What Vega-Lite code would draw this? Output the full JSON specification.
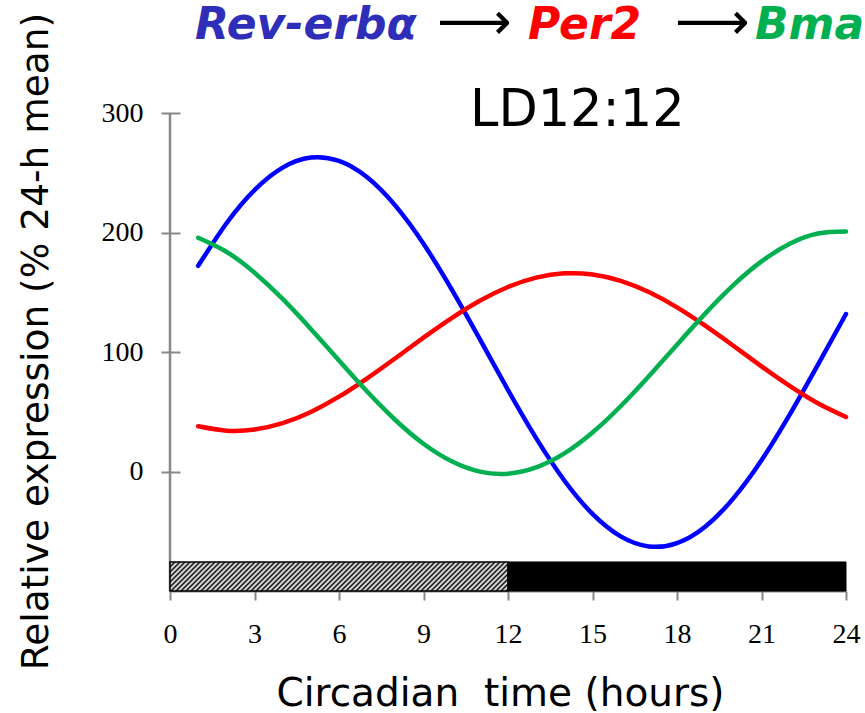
{
  "$schema": "https://vega.github.io/schema/vega-lite/v6.json",
  "width": 676,
  "height": 478,
  "autosize": {"type": "none"},
  "padding": {"left": 170, "top": 113, "right": 19, "bottom": 122},
  "background": "white",
  "config": {
    "view": {"stroke": null},
    "axis": {"grid": false, "labelColor": "black", "titleColor": "black", "titleFontWeight": "normal"}
  },
  "datasets": {
    "expr": [
      {"gene": "Rev-erbα", "t": 1, "v": 172.1}, {"gene": "Rev-erbα", "t": 2, "v": 207.5}, {"gene": "Rev-erbα", "t": 3, "v": 235.5},
      {"gene": "Rev-erbα", "t": 4, "v": 254.3}, {"gene": "Rev-erbα", "t": 5, "v": 262.7}, {"gene": "Rev-erbα", "t": 6, "v": 259.9},
      {"gene": "Rev-erbα", "t": 7, "v": 246.2}, {"gene": "Rev-erbα", "t": 8, "v": 222.5}, {"gene": "Rev-erbα", "t": 9, "v": 190.6},
      {"gene": "Rev-erbα", "t": 10, "v": 152.4}, {"gene": "Rev-erbα", "t": 11, "v": 110.7}, {"gene": "Rev-erbα", "t": 12, "v": 68.2},
      {"gene": "Rev-erbα", "t": 13, "v": 27.9}, {"gene": "Rev-erbα", "t": 14, "v": -7.5}, {"gene": "Rev-erbα", "t": 15, "v": -35.5},
      {"gene": "Rev-erbα", "t": 16, "v": -54.3}, {"gene": "Rev-erbα", "t": 17, "v": -62.7}, {"gene": "Rev-erbα", "t": 18, "v": -59.9},
      {"gene": "Rev-erbα", "t": 19, "v": -46.2}, {"gene": "Rev-erbα", "t": 20, "v": -22.5}, {"gene": "Rev-erbα", "t": 21, "v": 9.4},
      {"gene": "Rev-erbα", "t": 22, "v": 47.6}, {"gene": "Rev-erbα", "t": 23, "v": 89.3}, {"gene": "Rev-erbα", "t": 24, "v": 131.8},
      {"gene": "Per2", "t": 1, "v": 37.8}, {"gene": "Per2", "t": 2, "v": 34.2}, {"gene": "Per2", "t": 3, "v": 35.1},
      {"gene": "Per2", "t": 4, "v": 40.4}, {"gene": "Per2", "t": 5, "v": 49.8}, {"gene": "Per2", "t": 6, "v": 62.6},
      {"gene": "Per2", "t": 7, "v": 78.0}, {"gene": "Per2", "t": 8, "v": 94.8}, {"gene": "Per2", "t": 9, "v": 112.0},
      {"gene": "Per2", "t": 10, "v": 128.4}, {"gene": "Per2", "t": 11, "v": 142.9}, {"gene": "Per2", "t": 12, "v": 154.4},
      {"gene": "Per2", "t": 13, "v": 162.2}, {"gene": "Per2", "t": 14, "v": 165.8}, {"gene": "Per2", "t": 15, "v": 164.9},
      {"gene": "Per2", "t": 16, "v": 159.6}, {"gene": "Per2", "t": 17, "v": 150.2}, {"gene": "Per2", "t": 18, "v": 137.4},
      {"gene": "Per2", "t": 19, "v": 122.0}, {"gene": "Per2", "t": 20, "v": 105.2}, {"gene": "Per2", "t": 21, "v": 88.0},
      {"gene": "Per2", "t": 22, "v": 71.6}, {"gene": "Per2", "t": 23, "v": 57.1}, {"gene": "Per2", "t": 24, "v": 45.6},
      {"gene": "Bmal1", "t": 1, "v": 195.6}, {"gene": "Bmal1", "t": 2, "v": 183.9}, {"gene": "Bmal1", "t": 3, "v": 166.4},
      {"gene": "Bmal1", "t": 4, "v": 144.4}, {"gene": "Bmal1", "t": 5, "v": 119.3}, {"gene": "Bmal1", "t": 6, "v": 92.9},
      {"gene": "Bmal1", "t": 7, "v": 66.9}, {"gene": "Bmal1", "t": 8, "v": 43.1}, {"gene": "Bmal1", "t": 9, "v": 23.2},
      {"gene": "Bmal1", "t": 10, "v": 8.5}, {"gene": "Bmal1", "t": 11, "v": -0.1}, {"gene": "Bmal1", "t": 12, "v": -1.8},
      {"gene": "Bmal1", "t": 13, "v": 3.4}, {"gene": "Bmal1", "t": 14, "v": 15.1}, {"gene": "Bmal1", "t": 15, "v": 32.6},
      {"gene": "Bmal1", "t": 16, "v": 54.6}, {"gene": "Bmal1", "t": 17, "v": 79.7}, {"gene": "Bmal1", "t": 18, "v": 106.1},
      {"gene": "Bmal1", "t": 19, "v": 132.1}, {"gene": "Bmal1", "t": 20, "v": 155.9}, {"gene": "Bmal1", "t": 21, "v": 175.8},
      {"gene": "Bmal1", "t": 22, "v": 190.5}, {"gene": "Bmal1", "t": 23, "v": 199.1}, {"gene": "Bmal1", "t": 24, "v": 200.8}
    ],
    "lightdark": [
      {"phase": "light", "start": 0, "end": 12},
      {"phase": "dark", "start": 12, "end": 24}
    ]
  },
  "layer": [
    {
      "description": "Y axis line",
      "data": {"values": [{}]},
      "mark": {"type": "rule", "color": "#888888", "strokeWidth": 2.5},
      "encoding": {
        "x": {"datum": 0, "type": "quantitative", "scale": {"domain": [0, 24], "nice": false, "zero": false}},
        "y": {"datum": -100, "type": "quantitative", "scale": {"domain": [-100, 300], "nice": false, "zero": false}},
        "y2": {"datum": 300}
      }
    },
    {
      "description": "Light phase bar (hatched)",
      "data": {"name": "lightdark"},
      "transform": [{"filter": "datum.phase === 'light'"}],
      "mark": {
        "type": "rect",
        "stroke": "black",
        "strokeWidth": 1.5,
        "fill": {
          "gradient": "linear", "x1": 0, "y1": 0, "x2": 1.4685, "y2": 0.126,
          "stops": [
            {"offset": 0, "color": "#111111"}, {"offset": 0.005, "color": "#ffffff"}, {"offset": 0.01, "color": "#111111"}, {"offset": 0.015, "color": "#ffffff"},
            {"offset": 0.02, "color": "#111111"}, {"offset": 0.025, "color": "#ffffff"}, {"offset": 0.03, "color": "#111111"}, {"offset": 0.035, "color": "#ffffff"},
            {"offset": 0.04, "color": "#111111"}, {"offset": 0.045, "color": "#ffffff"}, {"offset": 0.05, "color": "#111111"}, {"offset": 0.055, "color": "#ffffff"},
            {"offset": 0.06, "color": "#111111"}, {"offset": 0.065, "color": "#ffffff"}, {"offset": 0.07, "color": "#111111"}, {"offset": 0.075, "color": "#ffffff"},
            {"offset": 0.08, "color": "#111111"}, {"offset": 0.085, "color": "#ffffff"}, {"offset": 0.09, "color": "#111111"}, {"offset": 0.095, "color": "#ffffff"},
            {"offset": 0.1, "color": "#111111"}, {"offset": 0.105, "color": "#ffffff"}, {"offset": 0.11, "color": "#111111"}, {"offset": 0.115, "color": "#ffffff"},
            {"offset": 0.12, "color": "#111111"}, {"offset": 0.125, "color": "#ffffff"}, {"offset": 0.13, "color": "#111111"}, {"offset": 0.135, "color": "#ffffff"},
            {"offset": 0.14, "color": "#111111"}, {"offset": 0.145, "color": "#ffffff"}, {"offset": 0.15, "color": "#111111"}, {"offset": 0.155, "color": "#ffffff"},
            {"offset": 0.16, "color": "#111111"}, {"offset": 0.165, "color": "#ffffff"}, {"offset": 0.17, "color": "#111111"}, {"offset": 0.175, "color": "#ffffff"},
            {"offset": 0.18, "color": "#111111"}, {"offset": 0.185, "color": "#ffffff"}, {"offset": 0.19, "color": "#111111"}, {"offset": 0.195, "color": "#ffffff"},
            {"offset": 0.2, "color": "#111111"}, {"offset": 0.205, "color": "#ffffff"}, {"offset": 0.21, "color": "#111111"}, {"offset": 0.215, "color": "#ffffff"},
            {"offset": 0.22, "color": "#111111"}, {"offset": 0.225, "color": "#ffffff"}, {"offset": 0.23, "color": "#111111"}, {"offset": 0.235, "color": "#ffffff"},
            {"offset": 0.24, "color": "#111111"}, {"offset": 0.245, "color": "#ffffff"}, {"offset": 0.25, "color": "#111111"}, {"offset": 0.255, "color": "#ffffff"},
            {"offset": 0.26, "color": "#111111"}, {"offset": 0.265, "color": "#ffffff"}, {"offset": 0.27, "color": "#111111"}, {"offset": 0.275, "color": "#ffffff"},
            {"offset": 0.28, "color": "#111111"}, {"offset": 0.285, "color": "#ffffff"}, {"offset": 0.29, "color": "#111111"}, {"offset": 0.295, "color": "#ffffff"},
            {"offset": 0.3, "color": "#111111"}, {"offset": 0.305, "color": "#ffffff"}, {"offset": 0.31, "color": "#111111"}, {"offset": 0.315, "color": "#ffffff"},
            {"offset": 0.32, "color": "#111111"}, {"offset": 0.325, "color": "#ffffff"}, {"offset": 0.33, "color": "#111111"}, {"offset": 0.335, "color": "#ffffff"},
            {"offset": 0.34, "color": "#111111"}, {"offset": 0.345, "color": "#ffffff"}, {"offset": 0.35, "color": "#111111"}, {"offset": 0.355, "color": "#ffffff"},
            {"offset": 0.36, "color": "#111111"}, {"offset": 0.365, "color": "#ffffff"}, {"offset": 0.37, "color": "#111111"}, {"offset": 0.375, "color": "#ffffff"},
            {"offset": 0.38, "color": "#111111"}, {"offset": 0.385, "color": "#ffffff"}, {"offset": 0.39, "color": "#111111"}, {"offset": 0.395, "color": "#ffffff"},
            {"offset": 0.4, "color": "#111111"}, {"offset": 0.405, "color": "#ffffff"}, {"offset": 0.41, "color": "#111111"}, {"offset": 0.415, "color": "#ffffff"},
            {"offset": 0.42, "color": "#111111"}, {"offset": 0.425, "color": "#ffffff"}, {"offset": 0.43, "color": "#111111"}, {"offset": 0.435, "color": "#ffffff"},
            {"offset": 0.44, "color": "#111111"}, {"offset": 0.445, "color": "#ffffff"}, {"offset": 0.45, "color": "#111111"}, {"offset": 0.455, "color": "#ffffff"},
            {"offset": 0.46, "color": "#111111"}, {"offset": 0.465, "color": "#ffffff"}, {"offset": 0.47, "color": "#111111"}, {"offset": 0.475, "color": "#ffffff"},
            {"offset": 0.48, "color": "#111111"}, {"offset": 0.485, "color": "#ffffff"}, {"offset": 0.49, "color": "#111111"}, {"offset": 0.495, "color": "#ffffff"},
            {"offset": 0.5, "color": "#111111"}, {"offset": 0.505, "color": "#ffffff"}, {"offset": 0.51, "color": "#111111"}, {"offset": 0.515, "color": "#ffffff"},
            {"offset": 0.52, "color": "#111111"}, {"offset": 0.525, "color": "#ffffff"}, {"offset": 0.53, "color": "#111111"}, {"offset": 0.535, "color": "#ffffff"},
            {"offset": 0.54, "color": "#111111"}, {"offset": 0.545, "color": "#ffffff"}, {"offset": 0.55, "color": "#111111"}, {"offset": 0.555, "color": "#ffffff"},
            {"offset": 0.56, "color": "#111111"}, {"offset": 0.565, "color": "#ffffff"}, {"offset": 0.57, "color": "#111111"}, {"offset": 0.575, "color": "#ffffff"},
            {"offset": 0.58, "color": "#111111"}, {"offset": 0.585, "color": "#ffffff"}, {"offset": 0.59, "color": "#111111"}, {"offset": 0.595, "color": "#ffffff"},
            {"offset": 0.6, "color": "#111111"}, {"offset": 0.605, "color": "#ffffff"}, {"offset": 0.61, "color": "#111111"}, {"offset": 0.615, "color": "#ffffff"},
            {"offset": 0.62, "color": "#111111"}, {"offset": 0.625, "color": "#ffffff"}, {"offset": 0.63, "color": "#111111"}, {"offset": 0.635, "color": "#ffffff"},
            {"offset": 0.64, "color": "#111111"}, {"offset": 0.645, "color": "#ffffff"}, {"offset": 0.65, "color": "#111111"}, {"offset": 0.655, "color": "#ffffff"},
            {"offset": 0.66, "color": "#111111"}, {"offset": 0.665, "color": "#ffffff"}, {"offset": 0.67, "color": "#111111"}, {"offset": 0.675, "color": "#ffffff"},
            {"offset": 0.68, "color": "#111111"}, {"offset": 0.685, "color": "#ffffff"}, {"offset": 0.69, "color": "#111111"}, {"offset": 0.695, "color": "#ffffff"},
            {"offset": 0.7, "color": "#111111"}, {"offset": 0.705, "color": "#ffffff"}, {"offset": 0.71, "color": "#111111"}, {"offset": 0.715, "color": "#ffffff"},
            {"offset": 0.72, "color": "#111111"}, {"offset": 0.725, "color": "#ffffff"}, {"offset": 0.73, "color": "#111111"}, {"offset": 0.735, "color": "#ffffff"},
            {"offset": 0.74, "color": "#111111"}
          ]
        }
      },
      "encoding": {
        "x": {"field": "start", "type": "quantitative", "scale": {"domain": [0, 24], "nice": false, "zero": false}},
        "x2": {"field": "end"},
        "y": {"datum": -100, "type": "quantitative", "scale": {"domain": [-100, 300], "nice": false, "zero": false}},
        "y2": {"datum": -75.7}
      }
    },
    {
      "description": "Dark phase bar",
      "data": {"name": "lightdark"},
      "transform": [{"filter": "datum.phase === 'dark'"}],
      "mark": {"type": "rect", "fill": "black", "stroke": "black", "strokeWidth": 1},
      "encoding": {
        "x": {"field": "start", "type": "quantitative", "scale": {"domain": [0, 24], "nice": false, "zero": false}},
        "x2": {"field": "end"},
        "y": {"datum": -100, "type": "quantitative", "scale": {"domain": [-100, 300], "nice": false, "zero": false}},
        "y2": {"datum": -75.7}
      }
    },
    {
      "description": "Expression curves",
      "data": {"name": "expr"},
      "mark": {"type": "line", "interpolate": "natural", "strokeWidth": 4.5, "strokeCap": "round"},
      "encoding": {
        "x": {
          "field": "t", "type": "quantitative",
          "scale": {"domain": [0, 24], "nice": false, "zero": false},
          "axis": {
            "values": [0, 3, 6, 9, 12, 15, 18, 21, 24],
            "domainColor": "#888888", "domainWidth": 2,
            "tickColor": "#888888", "tickWidth": 2, "tickSize": 9,
            "labelFont": "Liberation Serif", "labelFontSize": 28, "labelPadding": 20,
            "labelFlush": false, "labelOverlap": false,
            "title": "Circadian\u00a0 time (hours)",
            "titleFont": "DejaVu Sans", "titleFontSize": 39, "titlePadding": 26, "titleX": 330
          }
        },
        "y": {
          "field": "v", "type": "quantitative",
          "scale": {"domain": [-100, 300], "nice": false, "zero": false},
          "axis": {
            "values": [0, 100, 200, 300],
            "domain": false, "offset": -10,
            "tickColor": "#888888", "tickWidth": 2, "tickSize": 19,
            "labelFont": "Liberation Serif", "labelFontSize": 28, "labelPadding": 18,
            "labelFlush": false, "labelOverlap": false,
            "title": "Relative expression (% 24-h mean)",
            "titleFont": "DejaVu Sans", "titleFontSize": 37.5, "titlePadding": 46, "titleY": 228
          }
        },
        "color": {
          "field": "gene", "type": "nominal",
          "scale": {"domain": ["Rev-erbα", "Per2", "Bmal1"], "range": ["#0000FF", "#FF0000", "#00B050"]},
          "legend": null
        }
      }
    },
    {
      "data": {"values": [{}]},
      "mark": {"type": "text", "text": "LD12:12", "align": "center", "baseline": "alphabetic", "font": "DejaVu Sans", "fontSize": 51, "color": "black"},
      "encoding": {
        "x": {"datum": 14.46, "type": "quantitative", "scale": {"domain": [0, 24], "nice": false, "zero": false}},
        "y": {"datum": 289.5, "type": "quantitative", "scale": {"domain": [-100, 300], "nice": false, "zero": false}}
      }
    },
    {
      "data": {"values": [{}]},
      "mark": {"type": "text", "text": "Rev-erbα", "align": "left", "baseline": "alphabetic", "font": "DejaVu Sans", "fontStyle": "italic", "fontWeight": "bold", "fontSize": 44, "color": "#2E2EB8"},
      "encoding": {
        "x": {"datum": 0.89, "type": "quantitative", "scale": {"domain": [0, 24], "nice": false, "zero": false}},
        "y": {"datum": 362, "type": "quantitative", "scale": {"domain": [-100, 300], "nice": false, "zero": false}}
      }
    },
    {
      "data": {"values": [{}]},
      "mark": {"type": "text", "text": "⟶", "align": "left", "baseline": "alphabetic", "font": "DejaVu Sans", "fontSize": 52, "color": "black"},
      "encoding": {
        "x": {"datum": 9.48, "type": "quantitative", "scale": {"domain": [0, 24], "nice": false, "zero": false}},
        "y": {"datum": 362, "type": "quantitative", "scale": {"domain": [-100, 300], "nice": false, "zero": false}}
      }
    },
    {
      "data": {"values": [{}]},
      "mark": {"type": "text", "text": "Per2", "align": "left", "baseline": "alphabetic", "font": "DejaVu Sans", "fontStyle": "italic", "fontWeight": "bold", "fontSize": 44, "color": "#FF0000"},
      "encoding": {
        "x": {"datum": 12.71, "type": "quantitative", "scale": {"domain": [0, 24], "nice": false, "zero": false}},
        "y": {"datum": 362, "type": "quantitative", "scale": {"domain": [-100, 300], "nice": false, "zero": false}}
      }
    },
    {
      "data": {"values": [{}]},
      "mark": {"type": "text", "text": "⟶", "align": "left", "baseline": "alphabetic", "font": "DejaVu Sans", "fontSize": 52, "color": "black"},
      "encoding": {
        "x": {"datum": 17.93, "type": "quantitative", "scale": {"domain": [0, 24], "nice": false, "zero": false}},
        "y": {"datum": 362, "type": "quantitative", "scale": {"domain": [-100, 300], "nice": false, "zero": false}}
      }
    },
    {
      "data": {"values": [{}]},
      "mark": {"type": "text", "text": "Bmal1", "align": "left", "baseline": "alphabetic", "font": "DejaVu Sans", "fontStyle": "italic", "fontWeight": "bold", "fontSize": 44, "color": "#00B050"},
      "encoding": {
        "x": {"datum": 20.77, "type": "quantitative", "scale": {"domain": [0, 24], "nice": false, "zero": false}},
        "y": {"datum": 362, "type": "quantitative", "scale": {"domain": [-100, 300], "nice": false, "zero": false}}
      }
    }
  ]
}
